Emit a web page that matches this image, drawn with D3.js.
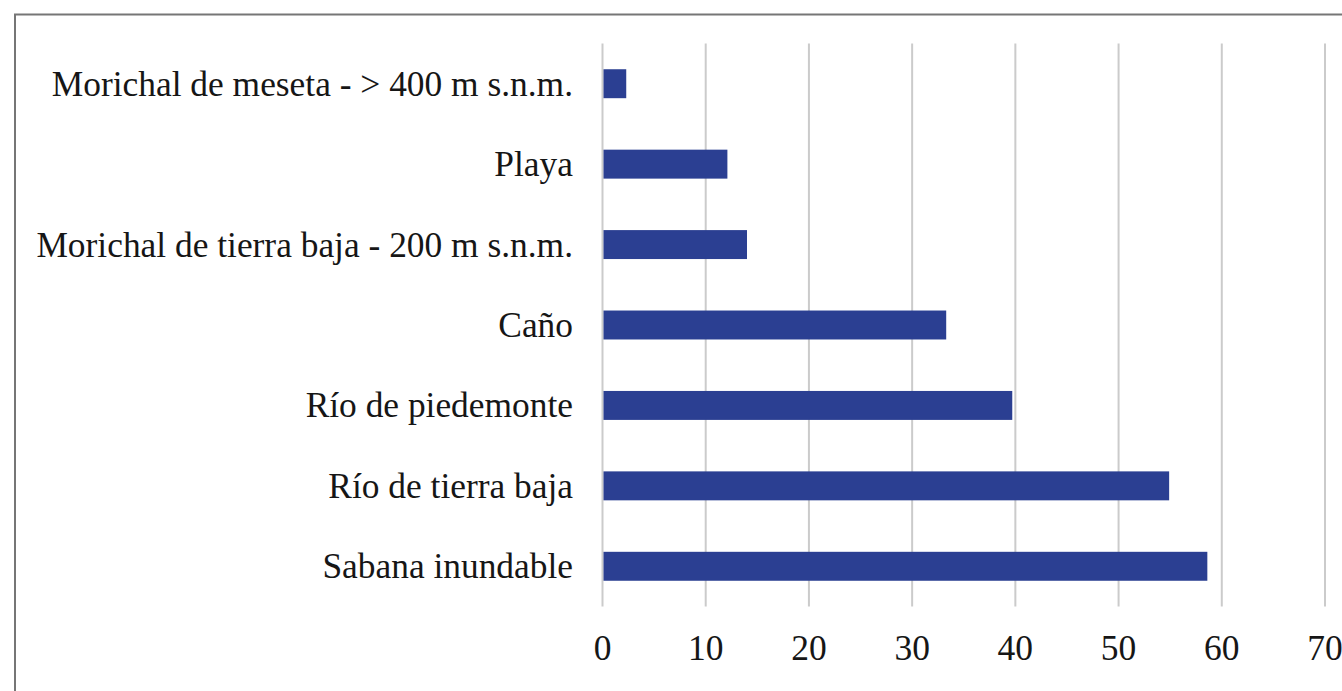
<!DOCTYPE html>
<html>
<head>
<meta charset="utf-8">
<script src="https://cdn.jsdelivr.net/npm/d3@7/dist/d3.min.js"></script>
<style>
  html, body { margin: 0; padding: 0; background: #ffffff; }
  svg { display: block; }
  text { font-family: "Liberation Serif", "Times New Roman", serif; fill: #161616; }
</style>
</head>
<body>
<script>
// Habitat categories (top to bottom) and their values
const categories = [
  "Morichal de meseta - > 400 m s.n.m.",
  "Playa",
  "Morichal de tierra baja - 200 m s.n.m.",
  "Caño",
  "Río de piedemonte",
  "Río de tierra baja",
  "Sabana inundable"
];
const values = [2.3, 12.1, 14.0, 33.3, 39.7, 54.9, 58.6];
const xTicks = [0, 10, 20, 30, 40, 50, 60, 70];

const W = 1342, H = 691;
const plot = { left: 602.5, right: 1325, top: 43.5, bottom: 606.5 };

const svg = d3.select("body").append("svg")
  .attr("width", W).attr("height", H);

// outer frame
svg.append("rect")
  .attr("x", 15).attr("y", 14.5)
  .attr("width", W + 20).attr("height", H + 20)
  .attr("fill", "none")
  .attr("stroke", "#767676")
  .attr("stroke-width", 2);

const x = d3.scaleLinear().domain([0, 70]).range([plot.left, plot.right]);
const y = d3.scaleBand().domain(categories).range([plot.top, plot.bottom]).paddingInner(0.64).paddingOuter(0.32);

// vertical gridlines
svg.append("g").selectAll("line")
  .data(xTicks).join("line")
  .attr("x1", d => x(d)).attr("x2", d => x(d))
  .attr("y1", plot.top).attr("y2", plot.bottom)
  .attr("stroke", "#cbcbcb")
  .attr("stroke-width", 2);

// bars
svg.append("g").selectAll("rect")
  .data(values).join("rect")
  .attr("x", x(0) + 1)
  .attr("y", (d, i) => y(categories[i]))
  .attr("width", d => x(d) - x(0) - 1)
  .attr("height", y.bandwidth())
  .attr("fill", "#2b3f92");

// x tick labels
svg.append("g").selectAll("text")
  .data(xTicks).join("text")
  .attr("x", d => x(d))
  .attr("y", 660)
  .attr("text-anchor", "middle")
  .attr("font-size", 35.5)
  .text(d => d);

// category labels
svg.append("g").selectAll("text")
  .data(categories).join("text")
  .attr("x", 573)
  .attr("y", d => y(d) + y.bandwidth() / 2 + 12)
  .attr("text-anchor", "end")
  .attr("font-size", 35.4)
  .text(d => d);
</script>
</body>
</html>
